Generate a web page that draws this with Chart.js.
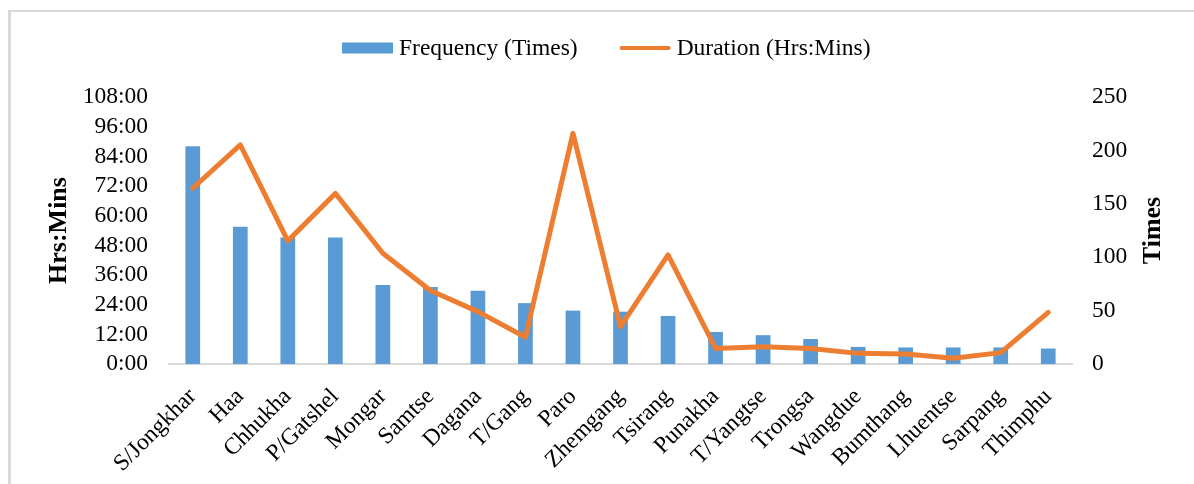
<!DOCTYPE html>
<html>
<head>
<meta charset="utf-8">
<script src="https://cdn.jsdelivr.net/npm/chart.js@4/dist/chart.umd.min.js"></script>
<style>
  html, body { margin: 0; padding: 0; background: #fff; }
  #wrap { position: relative; width: 1194px; height: 484px; overflow: hidden; }
  #frame { position: absolute; left: 8px; top: 10px; width: 1186px; height: 474px;
           border-top: 2px solid #D9D9D9; border-left: 3px solid #D9D9D9; box-sizing: border-box; }
  canvas { position: absolute; left: 0; top: 0; }
</style>
</head>
<body>
<div id="wrap">
  <div id="frame"></div>
  <canvas id="chart" width="1194" height="484"></canvas>
</div>
<script>
// Dzongkhags
const districts = ['S/Jongkhar', 'Haa', 'Chhukha', 'P/Gatshel', 'Mongar', 'Samtse', 'Dagana', 'T/Gang', 'Paro',
  'Zhemgang', 'Tsirang', 'Punakha', 'T/Yangtse', 'Trongsa', 'Wangdue', 'Bumthang', 'Lhuentse', 'Sarpang', 'Thimphu'];

// Number of occurrences (right axis)
const frequencyTimes = [204, 128.5, 118.5, 118.5, 74, 72, 68.6, 57, 50, 49, 45, 30, 27, 23.4, 16, 15.5, 15.5, 15.5, 14.5];

// Total duration in hours (left axis)
const durationHours = [71.1, 88.6, 49.8, 69.0, 44.8, 29.7, 21.2, 10.8, 93.3, 15.1, 44.1, 6.3, 7.0, 6.3, 4.3, 4.0, 2.3, 4.6, 20.9];

// Axis ticks
const hourTicks = [0, 12, 24, 36, 48, 60, 72, 84, 96, 108];
const timesTicks = [0, 50, 100, 150, 200, 250];

const seriesNames = ['Frequency (Times)', 'Duration (Hrs:Mins)'];
const rightAxisTitle = 'Times';
const barColor = '#5B9BD5';
const lineColor = '#ED7D31';
const FONT = '"Liberation Serif", "Times New Roman", serif';
const TICK_SIZE = 23.5;

// Legend drawn above the plot: rectangle swatch for bars, stroke for the line
const topLegend = {
  id: 'topLegend',
  afterDraw(chart) {
    const ctx = chart.ctx;
    const y = 48;
    const swatchW = 51, gap = 6, itemGap = 42;
    ctx.save();
    ctx.font = TICK_SIZE + 'px ' + FONT;
    ctx.textBaseline = 'middle';
    ctx.textAlign = 'left';
    let x = 342;
    chart.data.datasets.forEach(ds => {
      const w = ctx.measureText(ds.label).width;
      if (ds.type === 'line') {
        ctx.strokeStyle = ds.borderColor;
        ctx.lineWidth = 4;
        ctx.lineCap = 'round';
        ctx.beginPath();
        ctx.moveTo(x + 2, y);
        ctx.lineTo(x + swatchW - 2, y);
        ctx.stroke();
      } else {
        ctx.fillStyle = ds.backgroundColor;
        ctx.fillRect(x, y - 5.5, swatchW, 11);
      }
      ctx.fillStyle = '#000';
      ctx.fillText(ds.label, x + swatchW + gap, y + 1);
      x += swatchW + gap + w + itemGap;
    });
    ctx.restore();
  }
};

// Right axis title, reading bottom-to-top like the left one
const rightTitle = {
  id: 'rightTitle',
  afterDraw(chart) {
    const ctx = chart.ctx;
    const area = chart.chartArea;
    ctx.save();
    ctx.translate(1153, (area.top + area.bottom) / 2);
    ctx.rotate(-Math.PI / 2);
    ctx.font = 'bold 26px ' + FONT;
    ctx.fillStyle = '#000';
    ctx.textAlign = 'center';
    ctx.textBaseline = 'middle';
    ctx.fillText(rightAxisTitle, 0, 0);
    ctx.restore();
  }
};

new Chart(document.getElementById('chart'), {
  data: {
    labels: districts,
    datasets: [
      {
        type: 'bar',
        label: seriesNames[0],
        data: frequencyTimes,
        yAxisID: 'yTimes',
        backgroundColor: barColor,
        borderWidth: 0,
        categoryPercentage: 1,
        barPercentage: 0.31,
        order: 1
      },
      {
        type: 'line',
        label: seriesNames[1],
        data: durationHours,
        yAxisID: 'yHours',
        borderColor: lineColor,
        backgroundColor: lineColor,
        borderWidth: 5,
        borderJoinStyle: 'round',
        borderCapStyle: 'round',
        pointRadius: 0,
        tension: 0,
        order: 0
      }
    ]
  },
  options: {
    responsive: false,
    animation: false,
    layout: { padding: { top: 97, left: 8, right: 0, bottom: 0 } },
    plugins: {
      legend: { display: false },
      tooltip: { enabled: false }
    },
    scales: {
      x: {
        grid: { display: false, drawTicks: false },
        border: { display: true, color: '#D9D9D9', width: 2 },
        ticks: {
          color: '#000',
          font: { family: FONT, size: TICK_SIZE },
          minRotation: 45,
          maxRotation: 45,
          autoSkip: false,
          padding: 19
        },
        afterFit(scale) { scale.height = 120; }
      },
      yHours: {
        position: 'left',
        min: 0,
        max: 108,
        afterBuildTicks(scale) { scale.ticks = hourTicks.map(v => ({ value: v })); },
        grid: { display: false, drawTicks: false },
        border: { display: false },
        ticks: {
          color: '#000',
          font: { family: FONT, size: TICK_SIZE },
          padding: 21,
          autoSkip: false,
          callback: v => v + ':00'
        },
        title: {
          display: true,
          text: 'Hrs:Mins',
          color: '#000',
          font: { family: FONT, size: 26, weight: 'bold' },
          padding: { top: 36, bottom: 0 }
        },
        afterFit(scale) { scale.width = 161; }
      },
      yTimes: {
        position: 'right',
        min: 0,
        max: 250,
        afterBuildTicks(scale) { scale.ticks = timesTicks.map(v => ({ value: v })); },
        grid: { display: false, drawTicks: false },
        border: { display: false },
        ticks: {
          color: '#000',
          font: { family: FONT, size: TICK_SIZE },
          padding: 20,
          autoSkip: false
        },
        afterFit(scale) { scale.width = 122; }
      }
    }
  },
  plugins: [topLegend, rightTitle]
});
</script>
</body>
</html>
